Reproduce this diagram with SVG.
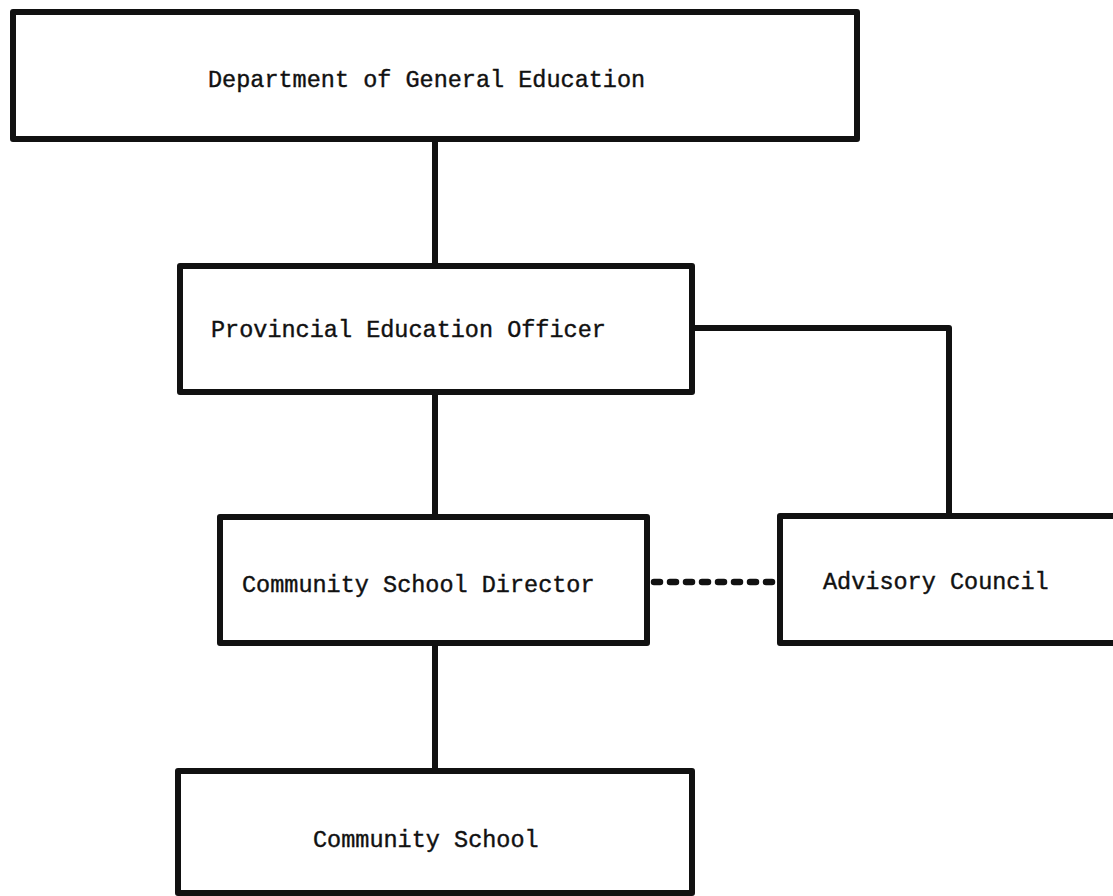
<svg xmlns="http://www.w3.org/2000/svg" width="1113" height="896" viewBox="0 0 1113 896">
  <style>
    .box { fill: #ffffff; stroke: #111111; stroke-width: 6; stroke-linejoin: round; }
    .label { font-family: "Liberation Mono", "DejaVu Sans Mono", monospace; font-size: 23.5px; fill: #111111; stroke: #111111; stroke-width: 0.4; }
    .link { fill: none; stroke: #111111; stroke-width: 6; stroke-linejoin: round; }
    .advisory { fill: none; stroke: #111111; stroke-width: 6.5; stroke-linecap: round; stroke-dasharray: 6 10; }
  </style>
  <rect width="1113" height="896" fill="#ffffff"/>

  <!-- connectors -->
  <g id="connectors">
    <line class="link" x1="435" y1="139" x2="435" y2="266"/>
    <line class="link" x1="435" y1="392" x2="435" y2="517"/>
    <line class="link" x1="435" y1="643" x2="435" y2="771"/>
    <polyline class="link" points="692,328 949,328 949,516"/>
    <line class="advisory" x1="654" y1="582" x2="776" y2="582"/>
  </g>

  <g id="node-department">
    <rect class="box" x="13" y="12" width="844" height="127"/>
    <text class="label" x="208" y="87">Department of General Education</text>
  </g>

  <g id="node-provincial">
    <rect class="box" x="180" y="266" width="512" height="126"/>
    <text class="label" x="211" y="337">Provincial Education Officer</text>
  </g>

  <g id="node-director">
    <rect class="box" x="220" y="517" width="427" height="126"/>
    <text class="label" x="242" y="592">Community School Director</text>
  </g>

  <g id="node-advisory">
    <rect class="box" x="780" y="516" width="345" height="127"/>
    <text class="label" x="823" y="589">Advisory Council</text>
  </g>

  <g id="node-school">
    <rect class="box" x="178" y="771" width="514" height="122"/>
    <text class="label" x="313" y="847">Community School</text>
  </g>
</svg>
